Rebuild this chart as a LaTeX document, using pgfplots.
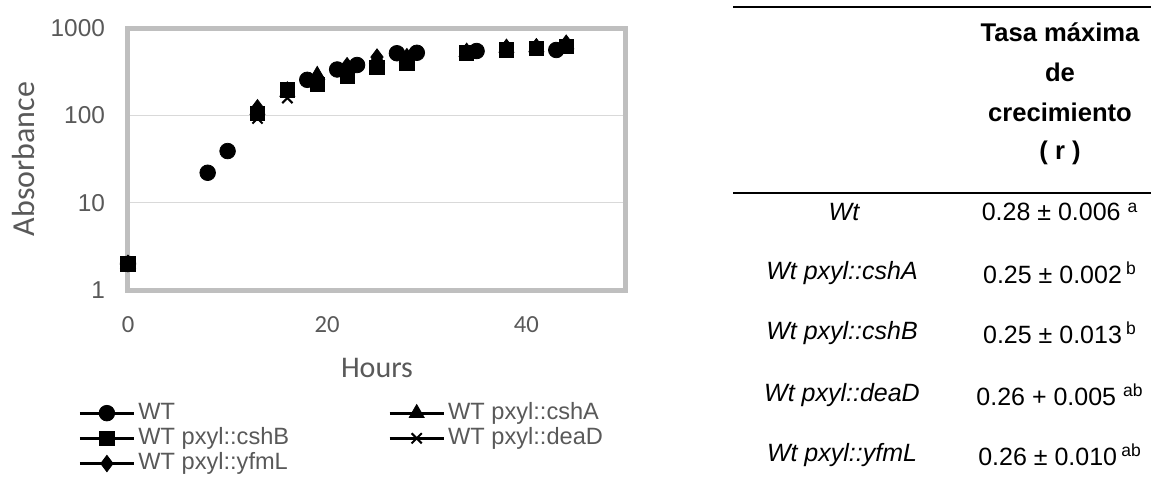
\documentclass[border=0pt]{standalone}
\usepackage{pgfplots}
\pgfplotsset{compat=1.18}
\usepackage{fontspec}
\setmainfont{Liberation Sans}
\newfontfamily\carlito{Carlito}

\definecolor{framegray}{HTML}{BFBFBF}
\definecolor{gridgray}{HTML}{D9D9D9}
\definecolor{labelgray}{HTML}{595959}

\begin{document}
\begin{tikzpicture}[x=1pt,y=1pt]
\path[use as bounding box] (0,0) rectangle (575.5,-248);

\begin{axis}[
  at={(64pt,-145pt)}, anchor=south west,
  scale only axis, width=249pt, height=131pt,
  xmin=0, xmax=50,
  ymode=log, ymin=1, ymax=1000,
  xtick={0,20,40}, ytick={1,10,100,1000},
  log ticks with fixed point,
  /pgf/number format/assume math mode=true,
  /pgf/number format/1000 sep={},
  ymajorgrids,
  grid style={color=gridgray, line width=0.65pt},
  axis line style={draw=framegray, line width=2.5pt},
  tick style={draw=none},
  clip=false,
  xticklabel style={font=\carlito\fontsize{12.3}{14}\selectfont, text=labelgray, yshift=-9.5pt},
  yticklabel style={font=\fontsize{12.2}{14}\selectfont, text=labelgray, xshift=-8pt},
  xlabel={Hours}, ylabel={Absorbance},
  every axis x label/.style={at={(axis description cs:0.5,-0.2977)}, anchor=center,
    font=\carlito\fontsize{15}{17}\selectfont, text=labelgray},
  every axis y label/.style={at={(axis description cs:-0.2108,0.5)}, anchor=center, rotate=90,
    font=\carlito\fontsize{16}{18}\selectfont, text=labelgray},
  legend columns=2,
  legend cell align=left,
  legend style={at={(axis description cs:-0.1004,-0.425)}, anchor=north west,
    draw=none, fill=none, font=\fontsize{11.8}{13}\selectfont, text=labelgray,
    inner sep=0pt, row sep=1.2pt,
    /tikz/every even column/.append style={column sep=48pt},
    nodes={inner xsep=1.5pt, inner ysep=0pt, text height=8.8pt, text depth=2.6pt}},
  legend image code/.code={
    \draw[black, line width=1.5pt, solid] (0pt,0pt) -- (27pt,0pt);
    \draw[#1] plot coordinates {(13.5pt,0pt)};
  },
]
% WT
\addplot[only marks, mark=*, mark size=3.9pt, black] coordinates {
  (0,2) (8,22) (10,39) (18,255) (21,335) (23,377) (27,514) (29,520) (35,545) (43,560)};
\addlegendentry{WT}
% WT pxyl::cshA
\addplot[only marks, mark=triangle*, mark size=4.3pt, black] coordinates {
  (0,2) (13,115) (16,185) (19,290) (22,340) (25,440) (28,450) (34,530) (38,590) (41,600) (44,650)};
\addlegendentry{WT pxyl::cshA}
% WT pxyl::cshB
\addplot[only marks, mark=square*, mark size=3.6pt, black] coordinates {
  (0,2) (13,105) (16,195) (19,225) (22,280) (25,355) (28,400) (34,520) (38,560) (41,580) (44,620)};
\addlegendentry{WT pxyl::cshB}
% WT pxyl::deaD
\addplot[only marks, mark=x, mark size=3.6pt, black, mark options={line width=1pt}] coordinates {
  (0,2) (13,92) (16,158) (19,250) (22,310) (25,420) (28,460) (34,530) (38,580) (41,600) (44,640)};
\addlegendentry{WT pxyl::deaD}
% WT pxyl::yfmL
\addplot[only marks, mark=diamond*, mark size=4.1pt, black] coordinates {
  (0,2) (13,122) (16,195) (19,275) (22,370) (25,465) (28,470) (34,540) (38,600) (41,610) (44,670)};
\addlegendentry{WT pxyl::yfmL}
\end{axis}

% growth-rate table
\begin{scope}[every node/.style={font=\fontsize{12.5}{15}\selectfont, inner sep=0pt, anchor=center}]
  \draw[line width=1.2pt] (366.5,-3.5) -- (575.5,-3.5);
  \node[font=\fontsize{12.8}{15}\selectfont\bfseries] at (530,-16) {Tasa máxima};
  \node[font=\fontsize{12.8}{15}\selectfont\bfseries] at (530,-36) {de};
  \node[font=\fontsize{12.8}{15}\selectfont\bfseries] at (530,-56) {crecimiento};
  \node[font=\fontsize{12.8}{15}\selectfont\bfseries] at (530,-76.5) {( r )};
  \draw[line width=1.2pt] (366.5,-96.5) -- (575.5,-96.5);

  \node at (422,-106) {\itshape Wt};
  \node at (421,-136.5) {\itshape Wt pxyl::cshA};
  \node at (421,-166.5) {\itshape Wt pxyl::cshB};
  \node at (421,-197.5) {\itshape Wt pxyl::deaD};
  \node at (421,-227.5) {\itshape Wt pxyl::yfmL};

  \node at (530,-106) {0.28 ± 0.006 \textsuperscript{a}};
  \node at (530,-136.5) {0.25 ± 0.002\,\textsuperscript{b}};
  \node at (530,-166.5) {0.25 ± 0.013\,\textsuperscript{b}};
  \node at (530,-197.5) {0.26 + 0.005 \textsuperscript{ab}};
  \node at (530,-227.5) {0.26 ± 0.010\,\textsuperscript{ab}};
\end{scope}
\end{tikzpicture}
\end{document}
